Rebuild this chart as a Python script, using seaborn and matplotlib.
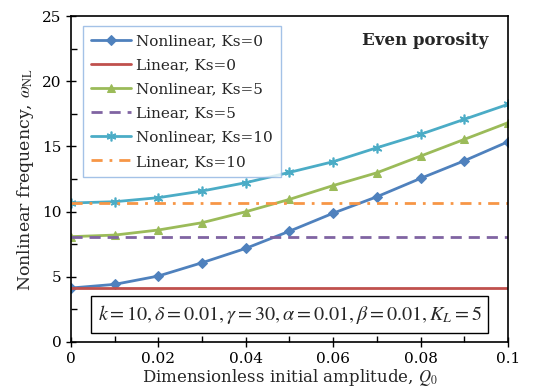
import matplotlib
matplotlib.use("Agg")
import matplotlib.pyplot as plt
import seaborn as sns
from matplotlib.ticker import MultipleLocator

# ── Data ──────────────────────────────────────────────────────────────────────
q0 = [0.0, 0.01, 0.02, 0.03, 0.04, 0.05, 0.06, 0.07, 0.08, 0.09, 0.1]
nl_ks0 = [4.14, 4.42, 5.06, 6.08, 7.18, 8.50, 9.88, 11.14, 12.55, 13.90, 15.36]
nl_ks5 = [8.08, 8.20, 8.59, 9.15, 9.99, 10.94, 12.00, 12.98, 14.26, 15.54, 16.82]
nl_ks10 = [10.66, 10.76, 11.07, 11.58, 12.22, 13.01, 13.83, 14.90, 15.93, 17.08, 18.23]
lin_ks0 = 4.14
lin_ks5 = 8.08
lin_ks10 = 10.65
xtick_labels = ['0', '0.02', '0.04', '0.06', '0.08', '0.1']

BLUE, RED, GREEN, PURPLE, CYAN, ORANGE = '#4F81BD', '#C0504D', '#9BBB59', '#8064A2', '#4BACC6', '#F79646'

sns.set_style('ticks')
plt.rcParams['font.family'] = ['DejaVu Serif']
plt.rcParams['mathtext.fontset'] = 'stix'

fig = plt.figure(figsize=(5.35, 3.92), dpi=100)
ax = fig.add_axes([0.1327, 0.1276, 0.8168, 0.8314])

flat = lambda v: [v] * len(q0)

sns.lineplot(x=q0, y=nl_ks0, color=BLUE, marker='D', markersize=5, markeredgecolor=BLUE,
             linewidth=2, label='Nonlinear, Ks=0', ax=ax)
sns.lineplot(x=q0, y=flat(lin_ks0), color=RED, linewidth=2, label='Linear, Ks=0', ax=ax)
sns.lineplot(x=q0, y=nl_ks5, color=GREEN, marker='^', markersize=6, markeredgecolor=GREEN,
             linewidth=2, label='Nonlinear, Ks=5', ax=ax)
sns.lineplot(x=q0, y=flat(lin_ks5), color=PURPLE, linewidth=2, dashes=(4, 2.5),
             label='Linear, Ks=5', ax=ax)
sns.lineplot(x=q0, y=nl_ks10, color=CYAN, marker=(6, 2, 0), markersize=7, markeredgecolor=CYAN,
             markeredgewidth=1.2, linewidth=2, label='Nonlinear, Ks=10', ax=ax)
sns.lineplot(x=q0, y=flat(lin_ks10), color=ORANGE, linewidth=2, dashes=(4, 2.5, 1, 2.5),
             label='Linear, Ks=10', ax=ax)

ax.set_xlim(0, 0.1)
ax.set_ylim(0, 25)
ax.xaxis.set_minor_locator(MultipleLocator(0.01))
ax.yaxis.set_major_locator(MultipleLocator(5))
ax.yaxis.set_minor_locator(MultipleLocator(2.5))
ax.set_xticks(q0[::2])
ax.set_xticklabels(xtick_labels)
ax.tick_params(which='both', direction='inout', length=7, width=1, labelsize=11, colors='black')
ax.tick_params(which='minor', direction='in', length=4)
for sp in ax.spines.values():
    sp.set_visible(True)
    sp.set_color('black')
    sp.set_linewidth(1.2)

ax.set_xlabel(r'Dimensionless initial amplitude, $\it{Q_0}$', fontsize=12, labelpad=1)
ax.set_ylabel(r'Nonlinear frequency, $\omega_{\rm NL}$', fontsize=12.5, labelpad=4)

leg = ax.legend(loc='upper left', bbox_to_anchor=(0.01, 0.993), fontsize=11, frameon=True,
                fancybox=False, edgecolor='#8DB3E2', handlelength=2.6, handletextpad=0.3,
                labelspacing=0.66, borderpad=0.55)
leg.get_frame().set_linewidth(1)

ax.text(0.955, 0.925, 'Even porosity', transform=ax.transAxes, ha='right', va='center',
        fontsize=12, fontweight='bold')
ax.text(0.50, 0.085, r'$k=10,\delta=0.01,\gamma=30,\alpha=0.01,\beta=0.01,K_L=5$',
        transform=ax.transAxes, ha='center', va='center', fontsize=14.5,
        bbox=dict(boxstyle='square,pad=0.35', fc='white', ec='black', lw=1))

plt.savefig('out.png', dpi=100)
